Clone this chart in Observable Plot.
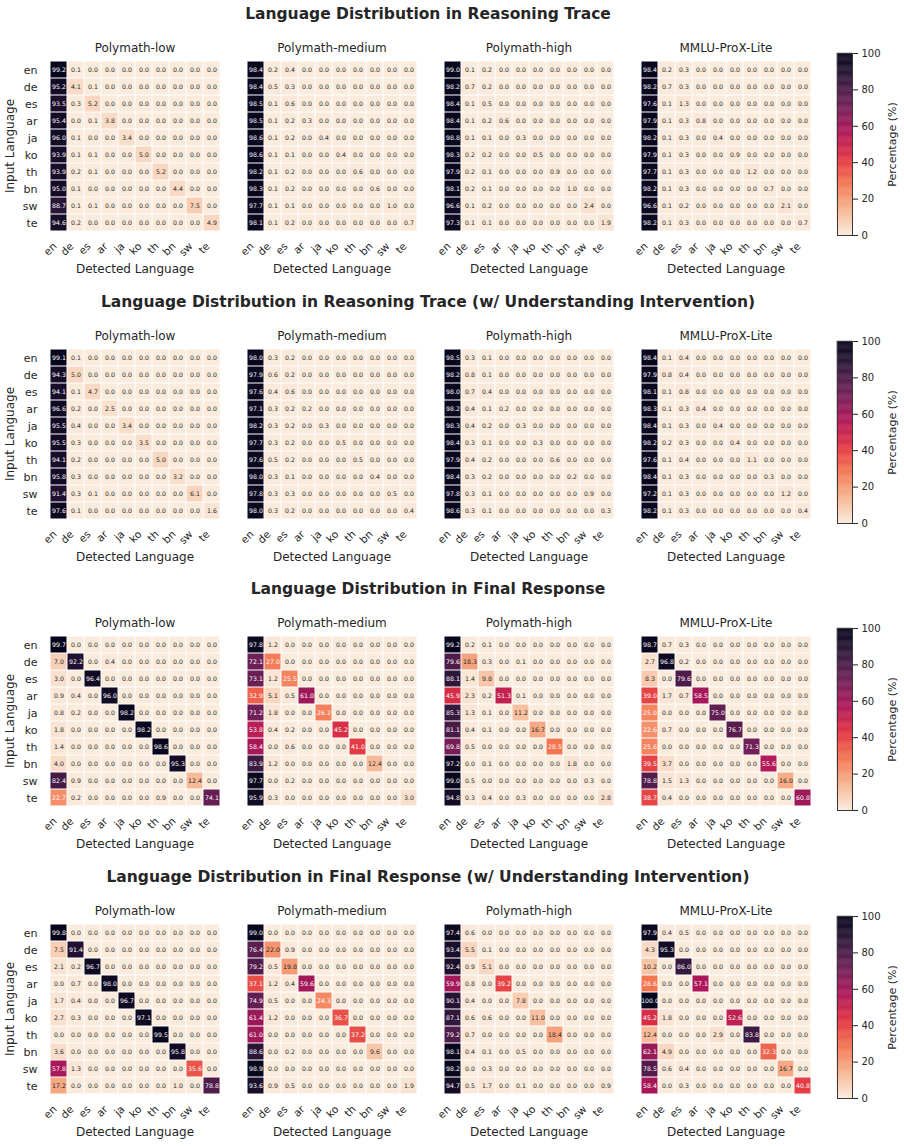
<!DOCTYPE html>
<html><head><meta charset="utf-8">
<script src="https://cdn.jsdelivr.net/npm/d3@7"></script>
<script src="https://cdn.jsdelivr.net/npm/@observablehq/plot@0.6"></script>
<style>
body{margin:0;background:#fff;}
#fig{position:relative;width:904px;height:1146px;font-family:"DejaVu Sans",sans-serif;color:#262626;overflow:hidden;background:#fff}
.title{position:absolute;left:0;width:856px;text-align:center;font-weight:bold;font-size:15.5px;line-height:20px}
.abs{position:absolute}
</style></head><body><div id="fig"></div><script>
const languages = ["en","de","es","ar","ja","ko","th","bn","sw","te"];
const datasets = ["Polymath-low","Polymath-medium","Polymath-high","MMLU-ProX-Lite"];
const sectionTitles = [
  "Language Distribution in Reasoning Trace",
  "Language Distribution in Reasoning Trace (w/ Understanding Intervention)",
  "Language Distribution in Final Response",
  "Language Distribution in Final Response (w/ Understanding Intervention)"
];
const colorbarTicks = [0,20,40,60,80,100];

// Reasoning trace
const traceLow = [
[99.2,0.1,0.0,0.0,0.0,0.0,0.0,0.0,0.0,0.0],
[95.2,4.1,0.1,0.0,0.0,0.0,0.0,0.0,0.0,0.0],
[93.5,0.3,5.2,0.0,0.0,0.0,0.0,0.0,0.0,0.0],
[95.4,0.0,0.1,3.8,0.0,0.0,0.0,0.0,0.0,0.0],
[96.0,0.1,0.0,0.0,3.4,0.0,0.0,0.0,0.0,0.0],
[93.9,0.1,0.1,0.0,0.0,5.0,0.0,0.0,0.0,0.0],
[93.9,0.2,0.1,0.0,0.0,0.0,5.2,0.0,0.0,0.0],
[95.0,0.1,0.0,0.0,0.0,0.0,0.0,4.4,0.0,0.0],
[88.7,0.1,0.1,0.0,0.0,0.0,0.0,0.0,7.5,0.0],
[94.6,0.2,0.0,0.0,0.0,0.0,0.0,0.0,0.0,4.9]];
const traceMedium = [
[98.4,0.2,0.4,0.0,0.0,0.0,0.0,0.0,0.0,0.0],
[98.4,0.5,0.3,0.0,0.0,0.0,0.0,0.0,0.0,0.0],
[98.5,0.1,0.6,0.0,0.0,0.0,0.0,0.0,0.0,0.0],
[98.5,0.1,0.2,0.3,0.0,0.0,0.0,0.0,0.0,0.0],
[98.6,0.1,0.2,0.0,0.4,0.0,0.0,0.0,0.0,0.0],
[98.6,0.1,0.1,0.0,0.0,0.4,0.0,0.0,0.0,0.0],
[98.2,0.1,0.2,0.0,0.0,0.0,0.6,0.0,0.0,0.0],
[98.3,0.1,0.2,0.0,0.0,0.0,0.0,0.6,0.0,0.0],
[97.7,0.1,0.1,0.0,0.0,0.0,0.0,0.0,1.0,0.0],
[98.1,0.1,0.2,0.0,0.0,0.0,0.0,0.0,0.0,0.7]];
const traceHigh = [
[99.0,0.1,0.2,0.0,0.0,0.0,0.0,0.0,0.0,0.0],
[98.2,0.7,0.2,0.0,0.0,0.0,0.0,0.0,0.0,0.0],
[98.4,0.1,0.5,0.0,0.0,0.0,0.0,0.0,0.0,0.0],
[98.4,0.1,0.2,0.6,0.0,0.0,0.0,0.0,0.0,0.0],
[98.8,0.1,0.1,0.0,0.3,0.0,0.0,0.0,0.0,0.0],
[98.3,0.2,0.2,0.0,0.0,0.5,0.0,0.0,0.0,0.0],
[97.9,0.2,0.1,0.0,0.0,0.0,0.9,0.0,0.0,0.0],
[98.1,0.2,0.1,0.0,0.0,0.0,0.0,1.0,0.0,0.0],
[96.6,0.1,0.2,0.0,0.0,0.0,0.0,0.0,2.4,0.0],
[97.3,0.1,0.1,0.0,0.0,0.0,0.0,0.0,0.0,1.9]];
const traceMmlu = [
[98.4,0.2,0.3,0.0,0.0,0.0,0.0,0.0,0.0,0.0],
[98.2,0.7,0.3,0.0,0.0,0.0,0.0,0.0,0.0,0.0],
[97.6,0.1,1.3,0.0,0.0,0.0,0.0,0.0,0.0,0.0],
[97.9,0.1,0.3,0.8,0.0,0.0,0.0,0.0,0.0,0.0],
[98.2,0.1,0.3,0.0,0.4,0.0,0.0,0.0,0.0,0.0],
[97.9,0.1,0.3,0.0,0.0,0.9,0.0,0.0,0.0,0.0],
[97.7,0.1,0.3,0.0,0.0,0.0,1.2,0.0,0.0,0.0],
[98.2,0.1,0.3,0.0,0.0,0.0,0.0,0.7,0.0,0.0],
[96.6,0.1,0.2,0.0,0.0,0.0,0.0,0.0,2.1,0.0],
[98.2,0.1,0.3,0.0,0.0,0.0,0.0,0.0,0.0,0.7]];

// Reasoning trace with understanding intervention
const traceUiLow = [
[99.1,0.1,0.0,0.0,0.0,0.0,0.0,0.0,0.0,0.0],
[94.3,5.0,0.0,0.0,0.0,0.0,0.0,0.0,0.0,0.0],
[94.1,0.1,4.7,0.0,0.0,0.0,0.0,0.0,0.0,0.0],
[96.6,0.2,0.0,2.5,0.0,0.0,0.0,0.0,0.0,0.0],
[95.5,0.4,0.0,0.0,3.4,0.0,0.0,0.0,0.0,0.0],
[95.5,0.3,0.0,0.0,0.0,3.5,0.0,0.0,0.0,0.0],
[94.1,0.2,0.0,0.0,0.0,0.0,5.0,0.0,0.0,0.0],
[95.8,0.3,0.0,0.0,0.0,0.0,0.0,3.2,0.0,0.0],
[91.4,0.3,0.1,0.0,0.0,0.0,0.0,0.0,6.1,0.0],
[97.6,0.1,0.0,0.0,0.0,0.0,0.0,0.0,0.0,1.6]];
const traceUiMedium = [
[98.0,0.3,0.2,0.0,0.0,0.0,0.0,0.0,0.0,0.0],
[97.9,0.6,0.2,0.0,0.0,0.0,0.0,0.0,0.0,0.0],
[97.6,0.4,0.6,0.0,0.0,0.0,0.0,0.0,0.0,0.0],
[97.1,0.3,0.2,0.2,0.0,0.0,0.0,0.0,0.0,0.0],
[98.2,0.3,0.2,0.0,0.3,0.0,0.0,0.0,0.0,0.0],
[97.7,0.3,0.2,0.0,0.0,0.5,0.0,0.0,0.0,0.0],
[97.6,0.5,0.2,0.0,0.0,0.0,0.5,0.0,0.0,0.0],
[98.0,0.3,0.1,0.0,0.0,0.0,0.0,0.4,0.0,0.0],
[97.8,0.3,0.3,0.0,0.0,0.0,0.0,0.0,0.5,0.0],
[98.0,0.3,0.2,0.0,0.0,0.0,0.0,0.0,0.0,0.4]];
const traceUiHigh = [
[98.5,0.3,0.1,0.0,0.0,0.0,0.0,0.0,0.0,0.0],
[98.2,0.8,0.1,0.0,0.0,0.0,0.0,0.0,0.0,0.0],
[98.0,0.7,0.4,0.0,0.0,0.0,0.0,0.0,0.0,0.0],
[98.2,0.4,0.1,0.2,0.0,0.0,0.0,0.0,0.0,0.0],
[98.3,0.4,0.2,0.0,0.3,0.0,0.0,0.0,0.0,0.0],
[98.4,0.3,0.1,0.0,0.0,0.3,0.0,0.0,0.0,0.0],
[97.9,0.4,0.2,0.0,0.0,0.0,0.6,0.0,0.0,0.0],
[98.4,0.3,0.2,0.0,0.0,0.0,0.0,0.2,0.0,0.0],
[97.8,0.3,0.1,0.0,0.0,0.0,0.0,0.0,0.9,0.0],
[98.6,0.3,0.1,0.0,0.0,0.0,0.0,0.0,0.0,0.3]];
const traceUiMmlu = [
[98.4,0.1,0.4,0.0,0.0,0.0,0.0,0.0,0.0,0.0],
[97.9,0.8,0.4,0.0,0.0,0.0,0.0,0.0,0.0,0.0],
[98.1,0.1,0.8,0.0,0.0,0.0,0.0,0.0,0.0,0.0],
[98.3,0.1,0.3,0.4,0.0,0.0,0.0,0.0,0.0,0.0],
[98.4,0.1,0.3,0.0,0.4,0.0,0.0,0.0,0.0,0.0],
[98.2,0.2,0.3,0.0,0.0,0.4,0.0,0.0,0.0,0.0],
[97.6,0.1,0.4,0.0,0.0,0.0,1.1,0.0,0.0,0.0],
[98.4,0.1,0.3,0.0,0.0,0.0,0.0,0.3,0.0,0.0],
[97.2,0.1,0.3,0.0,0.0,0.0,0.0,0.0,1.2,0.0],
[98.2,0.1,0.3,0.0,0.0,0.0,0.0,0.0,0.0,0.4]];

// Final response
const responseLow = [
[99.7,0.0,0.0,0.0,0.0,0.0,0.0,0.0,0.0,0.0],
[7.0,92.2,0.0,0.4,0.0,0.0,0.0,0.0,0.0,0.0],
[3.0,0.0,96.4,0.0,0.0,0.0,0.0,0.0,0.0,0.0],
[0.9,0.4,0.0,96.0,0.0,0.0,0.0,0.0,0.0,0.0],
[0.8,0.2,0.0,0.0,98.2,0.0,0.0,0.0,0.0,0.0],
[1.8,0.0,0.0,0.0,0.0,98.2,0.0,0.0,0.0,0.0],
[1.4,0.0,0.0,0.0,0.0,0.0,98.6,0.0,0.0,0.0],
[4.0,0.0,0.0,0.0,0.0,0.0,0.0,95.3,0.0,0.0],
[82.4,0.9,0.0,0.0,0.0,0.0,0.0,0.0,12.4,0.0],
[22.7,0.2,0.0,0.0,0.0,0.0,0.9,0.0,0.0,74.1]];
const responseMedium = [
[97.8,1.2,0.0,0.0,0.0,0.0,0.0,0.0,0.0,0.0],
[72.1,27.0,0.0,0.0,0.0,0.0,0.0,0.0,0.0,0.0],
[73.1,1.2,25.5,0.0,0.0,0.0,0.0,0.0,0.0,0.0],
[32.9,5.1,0.5,61.0,0.0,0.0,0.0,0.0,0.0,0.0],
[71.2,1.8,0.0,0.0,26.2,0.0,0.0,0.0,0.0,0.0],
[53.8,0.4,0.2,0.0,0.0,45.2,0.0,0.0,0.0,0.0],
[58.4,0.0,0.6,0.0,0.0,0.0,41.0,0.0,0.0,0.0],
[83.9,1.2,0.0,0.0,0.0,0.0,0.0,12.4,0.0,0.0],
[97.7,0.0,0.2,0.0,0.0,0.0,0.0,0.0,0.0,0.0],
[95.9,0.3,0.0,0.0,0.0,0.0,0.0,0.0,0.0,3.0]];
const responseHigh = [
[99.2,0.2,0.1,0.0,0.0,0.0,0.0,0.0,0.0,0.0],
[79.6,18.3,0.3,0.0,0.1,0.0,0.0,0.0,0.0,0.0],
[88.1,1.4,9.8,0.0,0.0,0.0,0.0,0.0,0.0,0.0],
[45.9,2.3,0.2,51.3,0.1,0.0,0.0,0.0,0.0,0.0],
[85.3,1.3,0.1,0.0,11.2,0.0,0.0,0.0,0.0,0.0],
[81.1,0.4,0.1,0.0,0.0,16.7,0.0,0.0,0.0,0.0],
[69.8,0.5,0.0,0.0,0.0,0.0,28.5,0.0,0.0,0.0],
[97.2,0.0,0.1,0.0,0.0,0.0,0.0,1.8,0.0,0.0],
[99.0,0.5,0.0,0.0,0.0,0.0,0.0,0.0,0.3,0.0],
[94.8,0.3,0.4,0.0,0.3,0.0,0.0,0.0,0.0,2.8]];
const responseMmlu = [
[98.7,0.7,0.3,0.0,0.0,0.0,0.0,0.0,0.0,0.0],
[2.7,96.8,0.2,0.0,0.0,0.0,0.0,0.0,0.0,0.0],
[8.3,0.0,79.6,0.0,0.0,0.0,0.0,0.0,0.0,0.0],
[39.0,1.7,0.7,58.5,0.0,0.0,0.0,0.0,0.0,0.0],
[25.0,0.0,0.0,0.0,75.0,0.0,0.0,0.0,0.0,0.0],
[22.6,0.7,0.0,0.0,0.0,76.7,0.0,0.0,0.0,0.0],
[25.6,0.0,0.0,0.0,0.0,0.0,71.3,0.0,0.0,0.0],
[39.5,3.7,0.0,0.0,0.0,0.0,0.0,55.6,0.0,0.0],
[78.8,1.5,1.3,0.0,0.0,0.0,0.0,0.0,16.0,0.0],
[38.7,0.4,0.0,0.0,0.0,0.0,0.0,0.0,0.0,60.8]];

// Final response with understanding intervention
const responseUiLow = [
[99.8,0.0,0.0,0.0,0.0,0.0,0.0,0.0,0.0,0.0],
[7.5,91.4,0.0,0.0,0.0,0.0,0.0,0.0,0.0,0.0],
[2.1,0.2,96.7,0.0,0.0,0.0,0.0,0.0,0.0,0.0],
[0.0,0.7,0.0,98.0,0.0,0.0,0.0,0.0,0.0,0.0],
[1.7,0.4,0.0,0.0,96.7,0.0,0.0,0.0,0.0,0.0],
[2.7,0.3,0.0,0.0,0.0,97.1,0.0,0.0,0.0,0.0],
[0.0,0.0,0.0,0.0,0.0,0.0,99.5,0.0,0.0,0.0],
[3.6,0.0,0.0,0.0,0.0,0.0,0.0,95.8,0.0,0.0],
[57.8,1.3,0.0,0.0,0.0,0.0,0.0,0.0,35.6,0.0],
[17.2,0.0,0.0,0.0,0.0,0.0,0.0,1.0,0.0,78.8]];
const responseUiMedium = [
[99.0,0.0,0.0,0.0,0.0,0.0,0.0,0.0,0.0,0.0],
[76.4,22.0,0.9,0.0,0.0,0.0,0.0,0.0,0.0,0.0],
[79.2,0.5,19.8,0.0,0.0,0.0,0.0,0.0,0.0,0.0],
[37.1,1.2,0.4,59.6,0.0,0.0,0.0,0.0,0.0,0.0],
[74.9,0.5,0.0,0.0,24.3,0.0,0.0,0.0,0.0,0.0],
[61.4,1.2,0.0,0.0,0.0,36.7,0.0,0.0,0.0,0.0],
[61.0,0.0,0.0,0.0,0.0,0.0,37.2,0.0,0.0,0.0],
[88.6,0.0,0.2,0.0,0.0,0.0,0.0,9.6,0.0,0.0],
[98.9,0.0,0.0,0.0,0.0,0.0,0.0,0.0,0.0,0.0],
[93.6,0.9,0.5,0.0,0.0,0.0,0.0,0.0,0.0,1.9]];
const responseUiHigh = [
[97.4,0.6,0.0,0.0,0.0,0.0,0.0,0.0,0.0,0.0],
[93.4,5.5,0.1,0.0,0.0,0.0,0.0,0.0,0.0,0.0],
[92.4,0.9,5.1,0.0,0.0,0.0,0.0,0.0,0.0,0.0],
[59.9,0.8,0.0,39.2,0.0,0.0,0.0,0.0,0.0,0.0],
[90.1,0.4,0.0,0.0,7.8,0.0,0.0,0.0,0.0,0.0],
[87.1,0.6,0.6,0.0,0.0,11.0,0.0,0.0,0.0,0.0],
[79.2,0.7,0.0,0.0,0.0,0.0,18.4,0.0,0.0,0.0],
[98.1,0.4,0.1,0.0,0.5,0.0,0.0,0.0,0.0,0.0],
[98.2,0.0,0.3,0.0,0.0,0.0,0.0,0.0,0.0,0.0],
[94.7,0.5,1.7,0.0,0.1,0.0,0.0,0.0,0.0,0.9]];
const responseUiMmlu = [
[97.9,0.4,0.5,0.0,0.0,0.0,0.0,0.0,0.0,0.0],
[4.3,95.3,0.0,0.0,0.0,0.0,0.0,0.0,0.0,0.0],
[10.2,0.0,86.0,0.0,0.0,0.0,0.0,0.0,0.0,0.0],
[28.6,0.0,0.0,57.1,0.0,0.0,0.0,0.0,0.0,0.0],
[100.0,0.0,0.0,0.0,0.0,0.0,0.0,0.0,0.0,0.0],
[45.2,1.8,0.0,0.0,0.0,52.6,0.0,0.0,0.0,0.0],
[12.4,0.0,0.0,0.0,2.9,0.0,83.8,0.0,0.0,0.0],
[62.1,4.9,0.0,0.0,0.0,0.0,0.0,32.3,0.0,0.0],
[78.5,0.6,0.4,0.0,0.0,0.0,0.0,0.0,16.7,0.0],
[58.4,0.0,0.3,0.0,0.0,0.0,0.0,0.0,0.0,40.8]];

const sections = [
  [traceLow, traceMedium, traceHigh, traceMmlu],
  [traceUiLow, traceUiMedium, traceUiHigh, traceUiMmlu],
  [responseLow, responseMedium, responseHigh, responseMmlu],
  [responseUiLow, responseUiMedium, responseUiHigh, responseUiMmlu]
];

// seaborn "rocket" reversed
const rocketStops = [0, 14.286, 28.571, 42.857, 57.143, 71.429, 85.714, 100];
const rocketColors = ["#FAEBDD","#F6B48F","#F37651","#E13342","#AD1759","#701F57","#35193E","#03051A"];
const colorOpts = {type: "linear", domain: rocketStops, range: rocketColors, interpolate: "rgb"};
const rocket = d3.scaleLinear().domain(rocketStops).range(rocketColors).interpolate(d3.interpolateRgb).clamp(true);
function luminance(c) {
  const {r, g, b} = d3.rgb(c);
  const f = v => { v /= 255; return v <= 0.03928 ? v / 12.92 : Math.pow((v + 0.055) / 1.055, 2.4); };
  return 0.2126 * f(r) + 0.7152 * f(g) + 0.0722 * f(b);
}
const isDark = v => luminance(rocket(v)) <= 0.408;

const FONT = "'DejaVu Sans', sans-serif";
const TEXT = "#262626";

function toLong(mats) {
  return datasets.flatMap((ds, i) => languages.flatMap((inp, r) => languages.map((det, c) => ({
    dataset: ds, input: inp, detected: det, value: mats[i][r][c]
  }))));
}

function sectionPlot(data) {
  const cellText = {fx: "dataset", x: "detected", y: "input", text: d => d.value.toFixed(1), fontSize: 6.2};
  return Plot.plot({
    width: 830, height: 253,
    marginLeft: 48, marginRight: 18, marginTop: 30, marginBottom: 50,
    style: {fontFamily: FONT, fontSize: "10.5px", color: TEXT, background: "transparent", overflow: "visible"},
    fx: {domain: datasets, paddingInner: 0.122, paddingOuter: 0, label: null},
    x: {domain: languages, padding: 0, label: null},
    y: {domain: languages, padding: 0, label: null},
    color: colorOpts,
    marks: [
      Plot.cell(data, {fx: "dataset", x: "detected", y: "input", fill: "value", inset: 0.5}),
      Plot.text(data, {...cellText, filter: d => isDark(d.value), fill: "white"}),
      Plot.text(data, {...cellText, filter: d => !isDark(d.value), fill: TEXT}),
      Plot.axisFx({anchor: "top", tickSize: 0, tickPadding: 8, fontSize: 12, label: null}),
      Plot.axisX({anchor: "bottom", tickRotate: -45, tickSize: 0, tickPadding: 12, fontSize: 10.5, label: null, dx: -4}),
      Plot.axisY({anchor: "left", tickSize: 0, tickPadding: 11, fontSize: 11, label: null}),
      Plot.text(datasets, {fx: d => d, text: () => "Detected Language", frameAnchor: "bottom", dy: 40, fontSize: 12, fill: TEXT}),
      Plot.text(datasets.slice(0, 1), {fx: d => d, text: () => "Input Language", frameAnchor: "left", textAnchor: "middle", rotate: -90, dx: -38, fontSize: 12, fill: TEXT})
    ]
  });
}

function colorbar() {
  return Plot.plot({
    width: 84, height: 198,
    marginLeft: 17, marginRight: 52, marginTop: 8, marginBottom: 8,
    style: {fontFamily: FONT, fontSize: "10px", color: TEXT, background: "transparent", overflow: "visible"},
    y: {domain: [0, 100], label: null},
    color: colorOpts,
    marks: [
      Plot.rect(d3.range(0, 100, 0.5), {y1: d => d, y2: d => d + 0.5, fill: d => d + 0.25, stroke: d => d + 0.25, strokeWidth: 0.4}),
      Plot.frame({stroke: "#3a3a3a", strokeWidth: 1}),
      Plot.axisY({anchor: "right", ticks: colorbarTicks, tickSize: 5, tickPadding: 4, fontSize: 10, label: null}),
      Plot.text(["Percentage (%)"], {frameAnchor: "right", textAnchor: "middle", rotate: -90, dx: 40, fontSize: 11, fill: TEXT})
    ]
  });
}

const fig = document.getElementById("fig");
sections.forEach((mats, k) => {
  const s = k * 287.7;
  const t = document.createElement("div");
  t.className = "title";
  t.style.top = (4 + s) + "px";
  t.textContent = sectionTitles[k];
  fig.appendChild(t);

  const w = document.createElement("div");
  w.className = "abs";
  w.style.left = "0px"; w.style.top = (29 + s) + "px"; w.style.width = "830px";
  w.appendChild(sectionPlot(toLong(mats)));
  fig.appendChild(w);

  const c = document.createElement("div");
  c.className = "abs";
  c.style.left = "820px"; c.style.top = (45 + s) + "px"; c.style.width = "84px";
  c.appendChild(colorbar());
  fig.appendChild(c);
});
</script></body></html>
